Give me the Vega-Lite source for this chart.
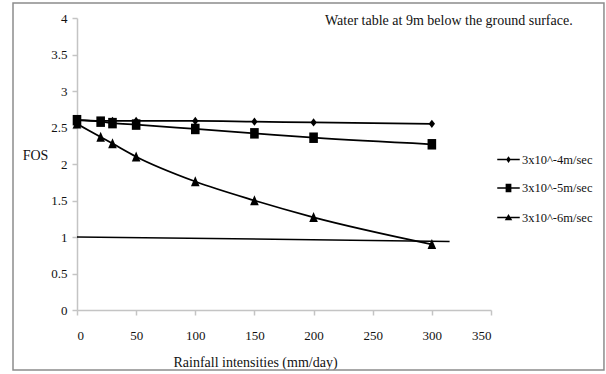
{
  "$schema": "https://vega.github.io/schema/vega-lite/v6.json",
  "width": 414,
  "height": 292,
  "autosize": {"type": "none"},
  "padding": {"left": 77, "top": 18, "right": 115, "bottom": 64},
  "background": "white",
  "title": {
    "text": "Water table at 9m below the ground surface.",
    "anchor": "start",
    "orient": "top",
    "frame": "group",
    "dx": 248,
    "offset": 0,
    "dy": 37,
    "baseline": "alphabetic",
    "font": "Times New Roman, Liberation Serif, serif",
    "fontSize": 14,
    "fontWeight": "normal",
    "color": "#111111"
  },
  "config": {
    "view": {"stroke": null},
    "font": "Times New Roman, Liberation Serif, serif",
    "axis": {
      "grid": false,
      "domainColor": "#c4c4c4",
      "domainWidth": 1.5,
      "tickColor": "#c4c4c4",
      "tickWidth": 1.5,
      "tickSize": 5,
      "labelFont": "Times New Roman, Liberation Serif, serif",
      "labelFontSize": 13,
      "labelColor": "#111111",
      "titleFont": "Times New Roman, Liberation Serif, serif",
      "titleFontSize": 14,
      "titleFontWeight": "normal",
      "titleColor": "#111111"
    },
    "legend": {
      "labelFont": "Times New Roman, Liberation Serif, serif"
    }
  },
  "datasets": {
    "fos": [
      {"series": "3x10^-4m/sec", "rain": 0, "fos": 2.6},
      {"series": "3x10^-4m/sec", "rain": 20, "fos": 2.59},
      {"series": "3x10^-4m/sec", "rain": 30, "fos": 2.59},
      {"series": "3x10^-4m/sec", "rain": 50, "fos": 2.59},
      {"series": "3x10^-4m/sec", "rain": 100, "fos": 2.59},
      {"series": "3x10^-4m/sec", "rain": 150, "fos": 2.58},
      {"series": "3x10^-4m/sec", "rain": 200, "fos": 2.57},
      {"series": "3x10^-4m/sec", "rain": 300, "fos": 2.55},
      {"series": "3x10^-5m/sec", "rain": 0, "fos": 2.6},
      {"series": "3x10^-5m/sec", "rain": 20, "fos": 2.58},
      {"series": "3x10^-5m/sec", "rain": 30, "fos": 2.56},
      {"series": "3x10^-5m/sec", "rain": 50, "fos": 2.54},
      {"series": "3x10^-5m/sec", "rain": 100, "fos": 2.48},
      {"series": "3x10^-5m/sec", "rain": 150, "fos": 2.42},
      {"series": "3x10^-5m/sec", "rain": 200, "fos": 2.36},
      {"series": "3x10^-5m/sec", "rain": 300, "fos": 2.27},
      {"series": "3x10^-6m/sec", "rain": 0, "fos": 2.55},
      {"series": "3x10^-6m/sec", "rain": 20, "fos": 2.37},
      {"series": "3x10^-6m/sec", "rain": 30, "fos": 2.28},
      {"series": "3x10^-6m/sec", "rain": 50, "fos": 2.1},
      {"series": "3x10^-6m/sec", "rain": 100, "fos": 1.76},
      {"series": "3x10^-6m/sec", "rain": 150, "fos": 1.5},
      {"series": "3x10^-6m/sec", "rain": 200, "fos": 1.27},
      {"series": "3x10^-6m/sec", "rain": 300, "fos": 0.9}
    ],
    "limit": [
      {"rain": 0, "fos": 1.0},
      {"rain": 315, "fos": 0.94}
    ],
    "frame": [
      {"rain": -54.1, "rain2": 445.5, "fos": 4.205, "fos2": -0.822}
    ]
  },
  "encoding": {
    "x": {
      "field": "rain",
      "type": "quantitative",
      "scale": {"domain": [0, 350], "nice": false, "zero": false},
      "axis": {
        "title": "Rainfall intensities (mm/day)",
        "values": [0, 50, 100, 150, 200, 250, 300, 350],
        "labelPadding": 14,
        "titleX": 178,
        "titleY": 56,
        "titleAlign": "center",
        "titleBaseline": "alphabetic"
      }
    },
    "y": {
      "field": "fos",
      "type": "quantitative",
      "scale": {"domain": [0, 4], "nice": false, "zero": false},
      "axis": {
        "title": "FOS",
        "values": [0, 0.5, 1, 1.5, 2, 2.5, 3, 3.5, 4],
        "labelExpr": "datum.value",
        "labelPadding": 5,
        "titleAngle": 0,
        "titleX": -42,
        "titleY": 137,
        "titleAlign": "center",
        "titleBaseline": "middle"
      }
    }
  },
  "layer": [
    {
      "data": {"name": "frame"},
      "mark": {"type": "rect", "fill": null, "stroke": "#8c8c8c", "strokeWidth": 1.5, "clip": false},
      "encoding": {
        "x2": {"field": "rain2"},
        "y2": {"field": "fos2"}
      }
    },
    {
      "data": {"name": "limit"},
      "mark": {"type": "line", "color": "black", "strokeWidth": 1.5, "clip": false}
    },
    {
      "data": {"name": "fos"},
      "mark": {"type": "line", "color": "black", "strokeWidth": 1.8, "interpolate": "monotone"},
      "encoding": {"detail": {"field": "series"}}
    },
    {
      "data": {"name": "fos"},
      "mark": {"type": "point", "filled": true, "color": "black", "opacity": 1, "size": 110},
      "encoding": {
        "shape": {
          "field": "series",
          "type": "nominal",
          "scale": {
            "range": [
              "M0,-0.8L0.6,0L0,0.8L-0.6,0Z",
              "M-0.82,-1L0.82,-1L0.82,1L-0.82,1Z",
              "M0,-1L0.82,0.9L-0.82,0.9Z"
            ]
          },
          "legend": null
        }
      }
    },
    {
      "data": {"name": "fos"},
      "mark": {"type": "point", "filled": true, "color": "black", "opacity": 0, "size": 625},
      "encoding": {
        "shape": {
          "field": "series",
          "type": "nominal",
          "scale": {
            "range": [
              "M-0.9,-0.06L0.9,-0.06L0.9,0.06L-0.9,0.06ZM0,-0.27L0.19,0L0,0.27L-0.19,0Z",
              "M-0.9,-0.06L0.9,-0.06L0.9,0.06L-0.9,0.06ZM-0.23,-0.34L0.23,-0.34L0.23,0.34L-0.23,0.34Z",
              "M-0.9,-0.06L0.9,-0.06L0.9,0.06L-0.9,0.06ZM0,-0.28L0.3,0.22L-0.3,0.22Z"
            ]
          },
          "legend": {
            "title": null,
            "orient": "none",
            "legendX": 418,
            "legendY": 128,
            "rowPadding": 8.5,
            "symbolSize": 625,
            "labelFont": "Times New Roman, Liberation Serif, serif",
            "labelFontSize": 12.5,
            "labelColor": "#111111",
            "labelOffset": 0,
            "symbolOpacity": 1,
            "symbolFillColor": "black",
            "encode": {
              "symbols": {
                "update": {
                  "size": {"value": 625},
                  "fill": {"value": "black"},
                  "opacity": {"value": 1}
                }
              }
            }
          }
        }
      }
    }
  ],
  "resolve": {"scale": {"shape": "independent"}}
}
